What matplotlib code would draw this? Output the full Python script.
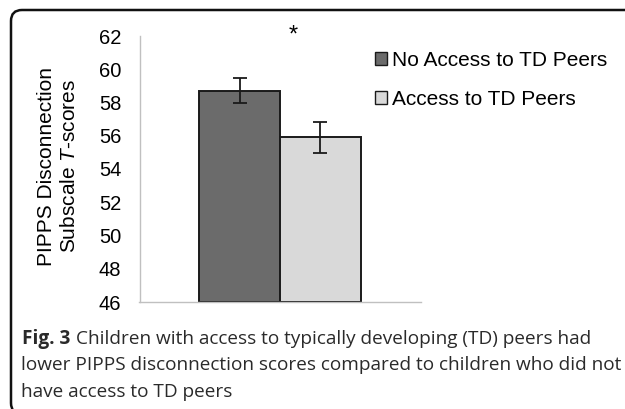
import matplotlib
matplotlib.use("Agg")
import matplotlib.pyplot as plt
from matplotlib.patches import Patch, FancyBboxPatch

plt.rcParams['font.family'] = ['Liberation Sans', 'DejaVu Sans']
plt.rcParams['mathtext.fontset'] = 'custom'
plt.rcParams['mathtext.it'] = 'Liberation Sans:italic'
plt.rcParams['mathtext.rm'] = 'Liberation Sans'

# data
groups = ["No Access to TD Peers", "Access to TD Peers"]
means = [58.7, 55.9]
errors = [0.75, 0.95]
yticks = [46, 48, 50, 52, 54, 56, 58, 60, 62]
colors = ["#6b6b6b", "#d9d9d9"]

W, H = 625, 409
fig = plt.figure(figsize=(W / 100, H / 100), dpi=100)
ax = fig.add_axes([139.5 / W, 1 - 302 / H, 281 / W, 266 / H])

positions = [-0.144, 0.144]
width = 0.288
for pos, m, e, c, g in zip(positions, means, errors, colors, groups):
    ax.bar(pos, m - 46, bottom=46, width=width, color=c, edgecolor="#1a1a1a",
           linewidth=1.4, label=g, zorder=2)
    ax.errorbar(pos, m, yerr=e, fmt="none", ecolor="#1a1a1a", elinewidth=1.3,
                capsize=5, capthick=1.3, zorder=3)

ax.text(0.046, 62.0, "*", ha="center", va="center", fontsize=17, clip_on=False)

ax.set_xlim(-0.5, 0.5)
ax.set_ylim(46, 62)
ax.set_yticks(yticks)
ax.set_xticks([])
ax.tick_params(axis="y", length=0, pad=13, labelsize=14.5)
for s in ["top", "right"]:
    ax.spines[s].set_visible(False)
for s in ["left", "bottom"]:
    ax.spines[s].set_color("#c0c0c0")
    ax.spines[s].set_linewidth(1.0)

ax.set_ylabel("PIPPS Disconnection\nSubscale $\\mathit{T}$-scores", fontsize=15,
              linespacing=1.3, ha="center", va="center")
ax.yaxis.set_label_coords(-0.29, 0.511)

handles = [Patch(facecolor=c, edgecolor="#1a1a1a", linewidth=1.0) for c in colors]
leg = fig.legend(handles, groups, loc="upper left", bbox_to_anchor=(375 / W, 1 - 51 / H),
                 frameon=False, fontsize=15, handlelength=0.58, handleheight=0.6,
                 handletextpad=0.24, labelspacing=0.95, borderaxespad=0, borderpad=0)

# caption
cap_font = ['Open Sans', 'DejaVu Sans']
cap_color = "#2a2a2a"
fs = 13.7
t0 = fig.text(22 / W, 1 - 344 / H, "Fig. 3", fontsize=fs, fontweight="bold",
              family=cap_font, va="baseline", ha="left", color=cap_color)
fig.canvas.draw()
bb = t0.get_window_extent()
fig.text((bb.x1 + 6) / W, 1 - 344 / H,
         "Children with access to typically developing (TD) peers had",
         fontsize=fs, family=cap_font, va="baseline", ha="left", color=cap_color)
fig.text(21 / W, 1 - 370.5 / H,
         "lower PIPPS disconnection scores compared to children who did not",
         fontsize=fs, family=cap_font, va="baseline", ha="left", color=cap_color)
fig.text(21 / W, 1 - 397 / H, "have access to TD peers",
         fontsize=fs, family=cap_font, va="baseline", ha="left", color=cap_color)

# frame
frame = FancyBboxPatch((11, -5), 800, 399 + 5, boxstyle="round,pad=0,rounding_size=11",
                       transform=None, fill=False, edgecolor="#111111", linewidth=1.8)
fig.patches.append(frame)

fig.savefig("out.png", dpi=100)
